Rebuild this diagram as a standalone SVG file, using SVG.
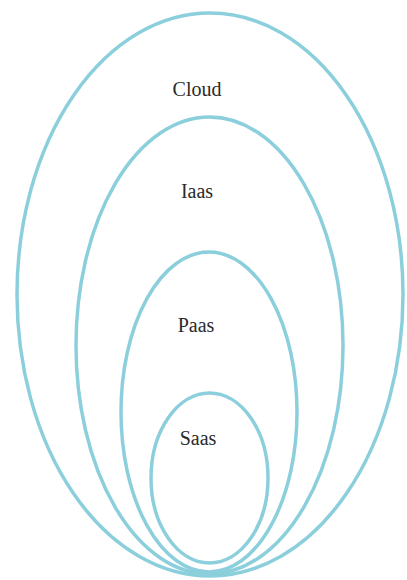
<svg xmlns="http://www.w3.org/2000/svg" width="407" height="580" viewBox="0 0 407 580">
<style>
.ring{fill:none;stroke:#8ccfdc;stroke-width:3.5}
.lbl{font-family:'Liberation Serif','Times New Roman',serif;font-size:20px;fill:#2a2a2a;text-anchor:middle}
</style>
<rect width="407" height="580" fill="#ffffff"/>
<g id="cloud"><ellipse class="ring" cx="210" cy="294.5" rx="193" ry="281.5"/><text class="lbl" x="197" y="96">Cloud</text></g>
<g id="iaas"><ellipse class="ring" cx="209.5" cy="345.5" rx="133.5" ry="228.5"/><text class="lbl" x="197" y="198">Iaas</text></g>
<g id="paas"><ellipse class="ring" cx="209" cy="412" rx="88" ry="160"/><text class="lbl" x="196" y="332">Paas</text></g>
<g id="saas"><ellipse class="ring" cx="209.5" cy="478" rx="58.5" ry="85"/><text class="lbl" x="198" y="445">Saas</text></g>
<g id="connectors"></g>
</svg>
